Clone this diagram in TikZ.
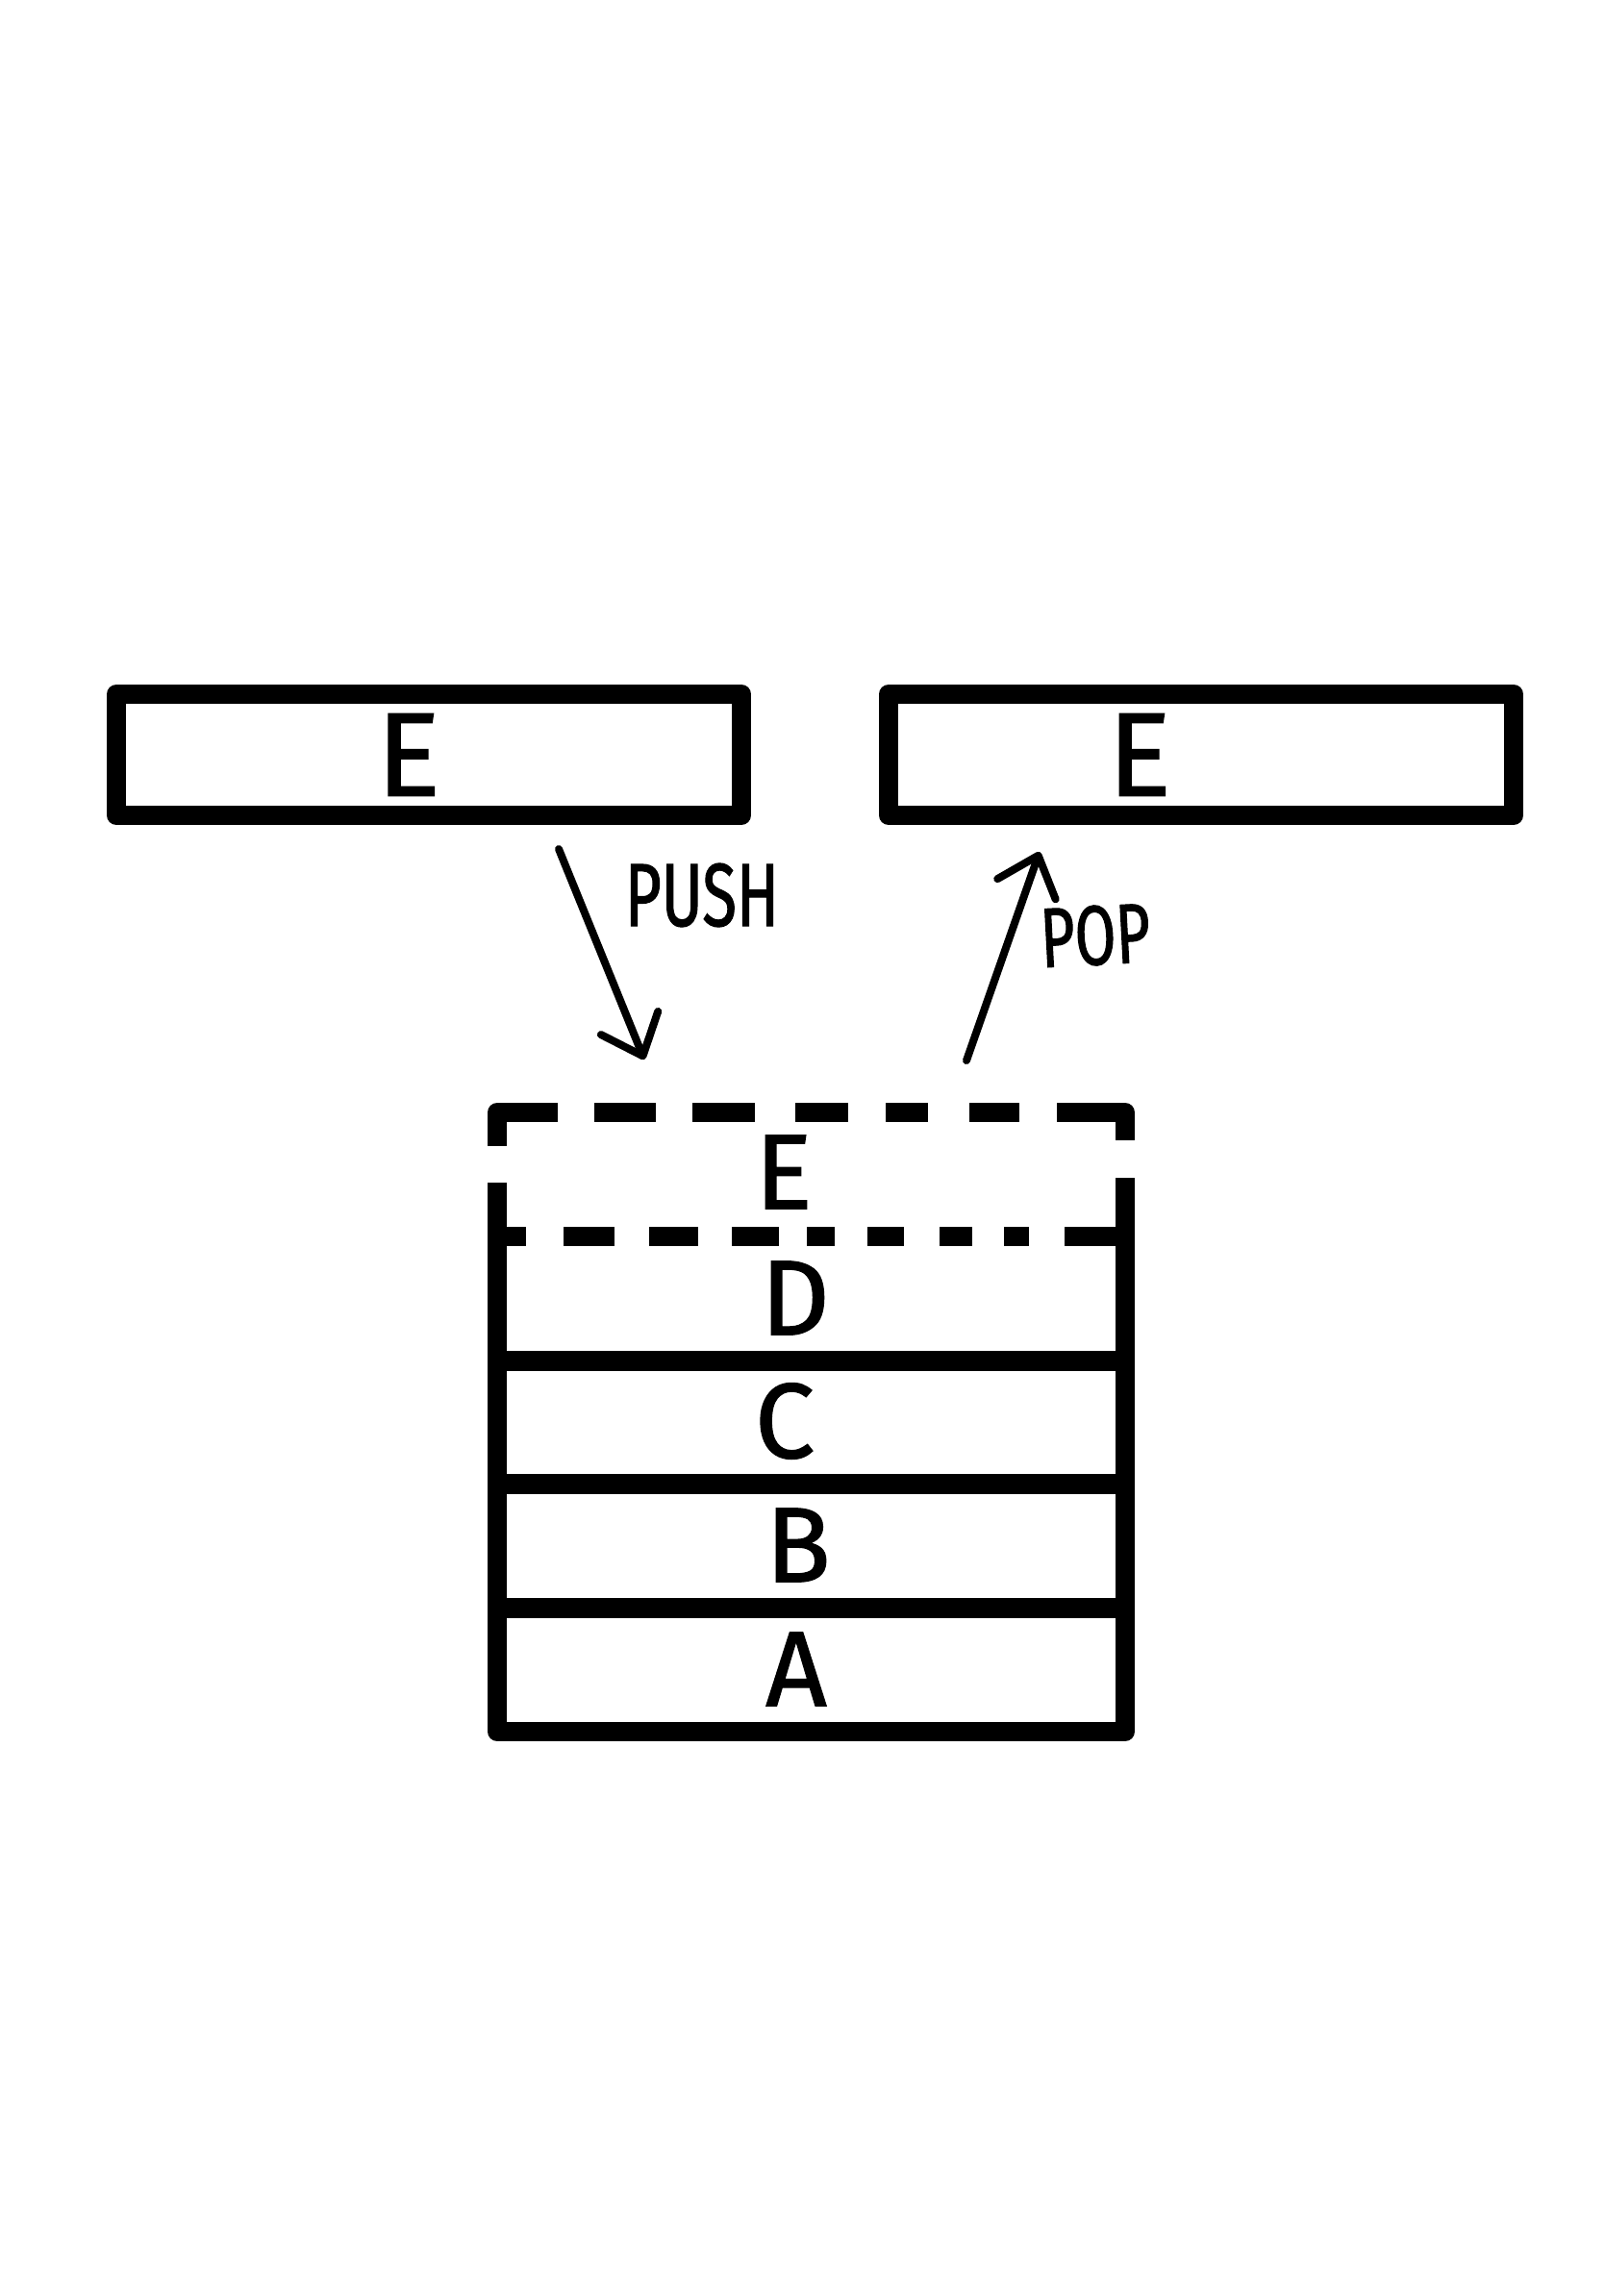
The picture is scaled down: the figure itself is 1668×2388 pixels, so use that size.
\documentclass[tikz,border=0pt]{standalone}
\usepackage{fontspec}
\setmainfont{Fira Sans}
\newfontfamily\handfont[FakeBold=1.2]{Fira Sans}
\newfontfamily\wordfont[FakeStretch=0.7,FakeBold=1.2]{Fira Sans}
\usetikzlibrary{arrows.meta}
\begin{document}
\begin{tikzpicture}[x=1pt,y=-1pt,
  thickbox/.style={draw, line width=20pt, line join=round, rectangle, inner sep=0pt},
  lbl/.style={font=\handfont\fontsize{111}{111}\selectfont, inner sep=0pt},
  biglbl/.style={font=\handfont\fontsize{124}{124}\selectfont, inner sep=0pt},
  wordlbl/.style={font=\wordfont\fontsize{93}{93}\selectfont, inner sep=0pt},
  poplbl/.style={font=\wordfont\fontsize{88}{88}\selectfont, inner sep=0pt},
  frame/.style={line width=20pt, line join=round, line cap=butt},
  hsep/.style={line width=21pt, line cap=butt},
  dsh/.style={line width=20pt, line cap=butt, line join=round},
  arr/.style={line width=8pt, line cap=round, line join=round, -{Straight Barb[length=37pt,width=64pt,line width=8pt,round]}}]
\useasboundingbox[fill=white] (0,0) rectangle (1668,2388);

% top boxes
\node[thickbox, minimum width=650pt, minimum height=126pt] (inbox) at (446,785) {};
\node[thickbox, minimum width=650pt, minimum height=126pt] (outbox) at (1249,785) {};
\node[biglbl] (inE) at (425,785) {E};
\node[biglbl] (outE) at (1185,785) {E};

% arrows
\coordinate (pushS) at (581,883);
\coordinate (pushT) at (670,1102);
\coordinate (popS) at (1005,1103);
\coordinate (popT) at (1081,886);
\draw[arr] (pushS) -- (pushT);
\draw[arr] (popS) -- (popT);
\node[wordlbl] (push) at (730,931) {PUSH};
\node[poplbl, rotate=3] (pop) at (1139,973) {POP};

% stack frame
\draw[frame] (517,1230) -- (517,1801) -- (1170,1801) -- (1170,1225);
\draw[hsep] (507,1415) -- (1180,1415);
\draw[hsep] (507,1543) -- (1180,1543);
\draw[hsep] (507,1672) -- (1180,1672);

% dashed top
\draw[dsh] (517,1192) -- (517,1157) -- (580,1157);
\foreach \a/\b in {618/682, 720/785, 827/882, 921/965, 1008/1060}
  \draw[dsh] (\a,1157) -- (\b,1157);
\draw[dsh] (1099,1157) -- (1170,1157) -- (1170,1186);
\foreach \a/\b in {517/547, 586/639, 675/726, 761/810, 839/868, 902/940, 977/1011, 1044/1070, 1107/1170}
  \draw[dsh] (\a,1286) -- (\b,1286);

% labels
\node[lbl] (cE) at (815,1219) {E};
\node[lbl] (cD) at (827,1350) {D};
\node[lbl] (cC) at (816,1478) {C};
\node[lbl] (cB) at (830,1607) {B};
\node[lbl] (cA) at (828,1736) {A};
\end{tikzpicture}
\end{document}
